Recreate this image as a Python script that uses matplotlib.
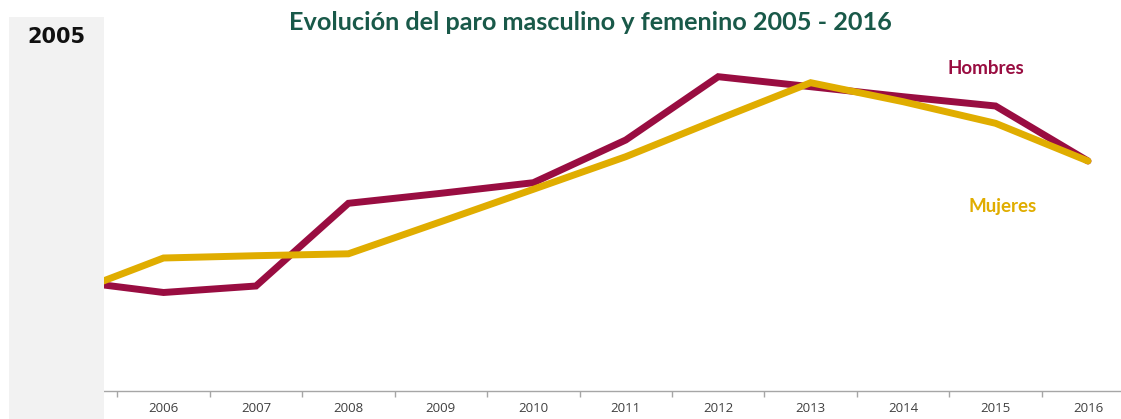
import matplotlib
matplotlib.use("Agg")
import matplotlib.pyplot as plt
from matplotlib.patches import Rectangle
import numpy as np

years = [2005, 2006, 2007, 2008, 2009, 2010, 2011, 2012, 2013, 2014, 2015, 2016]
hombres = [110.1, 98.5, 105.0, 187.7, 197.7, 208.3, 251.0, 314.3, 304.3, 294.3, 285.0, 230.0]
mujeres = [97.7, 133.0, 135.3, 137.2, 169.3, 201.7, 234.3, 271.7, 308.3, 289.3, 267.7, 230.0]
tick_labels = [str(y) for y in years]

title = "Evolución del paro masculino y femenino 2005 - 2016"

W, H = 1121, 419
fig = plt.figure(figsize=(W / 100, H / 100), dpi=100)
fig.patch.set_facecolor("white")

# gray side panel
fig.patches.append(Rectangle((9 / W, 0), 95 / W, (H - 17) / H, transform=fig.transFigure,
                             facecolor="#f2f2f2", edgecolor="none", zorder=0))
fig.text(56 / W, 1 - 37 / H, "2005", ha="center", va="center", fontsize=15,
         fontweight="bold", color="#111111", family="DejaVu Sans")

ax = fig.add_axes([104 / W, 28 / H, (W - 104) / W, 391 / H])
ax.set_facecolor("none")
x = np.arange(len(years))
ax.plot(x, hombres, color="#990d41", lw=5, solid_capstyle="round", solid_joinstyle="miter", zorder=2)
ax.plot(x, mujeres, color="#e0ad00", lw=5, solid_capstyle="round", solid_joinstyle="miter", zorder=3)

for s in ["top", "right", "left"]:
    ax.spines[s].set_visible(False)
ax.spines["bottom"].set_color("#a6a6a6")
ax.spines["bottom"].set_linewidth(1.0)
ax.set_yticks([])
ax.set_xticks(np.arange(len(years)) + 0.5)
ax.set_xticklabels([])
ax.tick_params(axis="x", which="major", length=4, color="#a6a6a6", width=1)
ax.set_xticks(x[1:], minor=True)
ax.set_xticklabels(tick_labels[1:], minor=True, fontsize=9.5, color="#404040", family="Open Sans")
ax.tick_params(axis="x", which="minor", length=0, pad=8)
ax.set_xlim(0.356, 11.357)
ax.set_ylim(0, 391)

t = fig.text(590 / W, 1 - 22 / H, title, ha="center", va="center", fontsize=17,
             fontweight="bold", color="#195949", family="Lato")
fig.canvas.draw()
bb = t.get_window_extent()
t.set_fontsize(17 * 606 / bb.width)

fig.text(986 / W, 1 - 69 / H, "Hombres", ha="center", va="center", fontsize=13.5,
         fontweight="bold", color="#990d41", family="Lato")
fig.text(1003 / W, 1 - 206 / H, "Mujeres", ha="center", va="center", fontsize=13.5,
         fontweight="bold", color="#e0ad00", family="Lato")

fig.savefig("out.png", dpi=100)
